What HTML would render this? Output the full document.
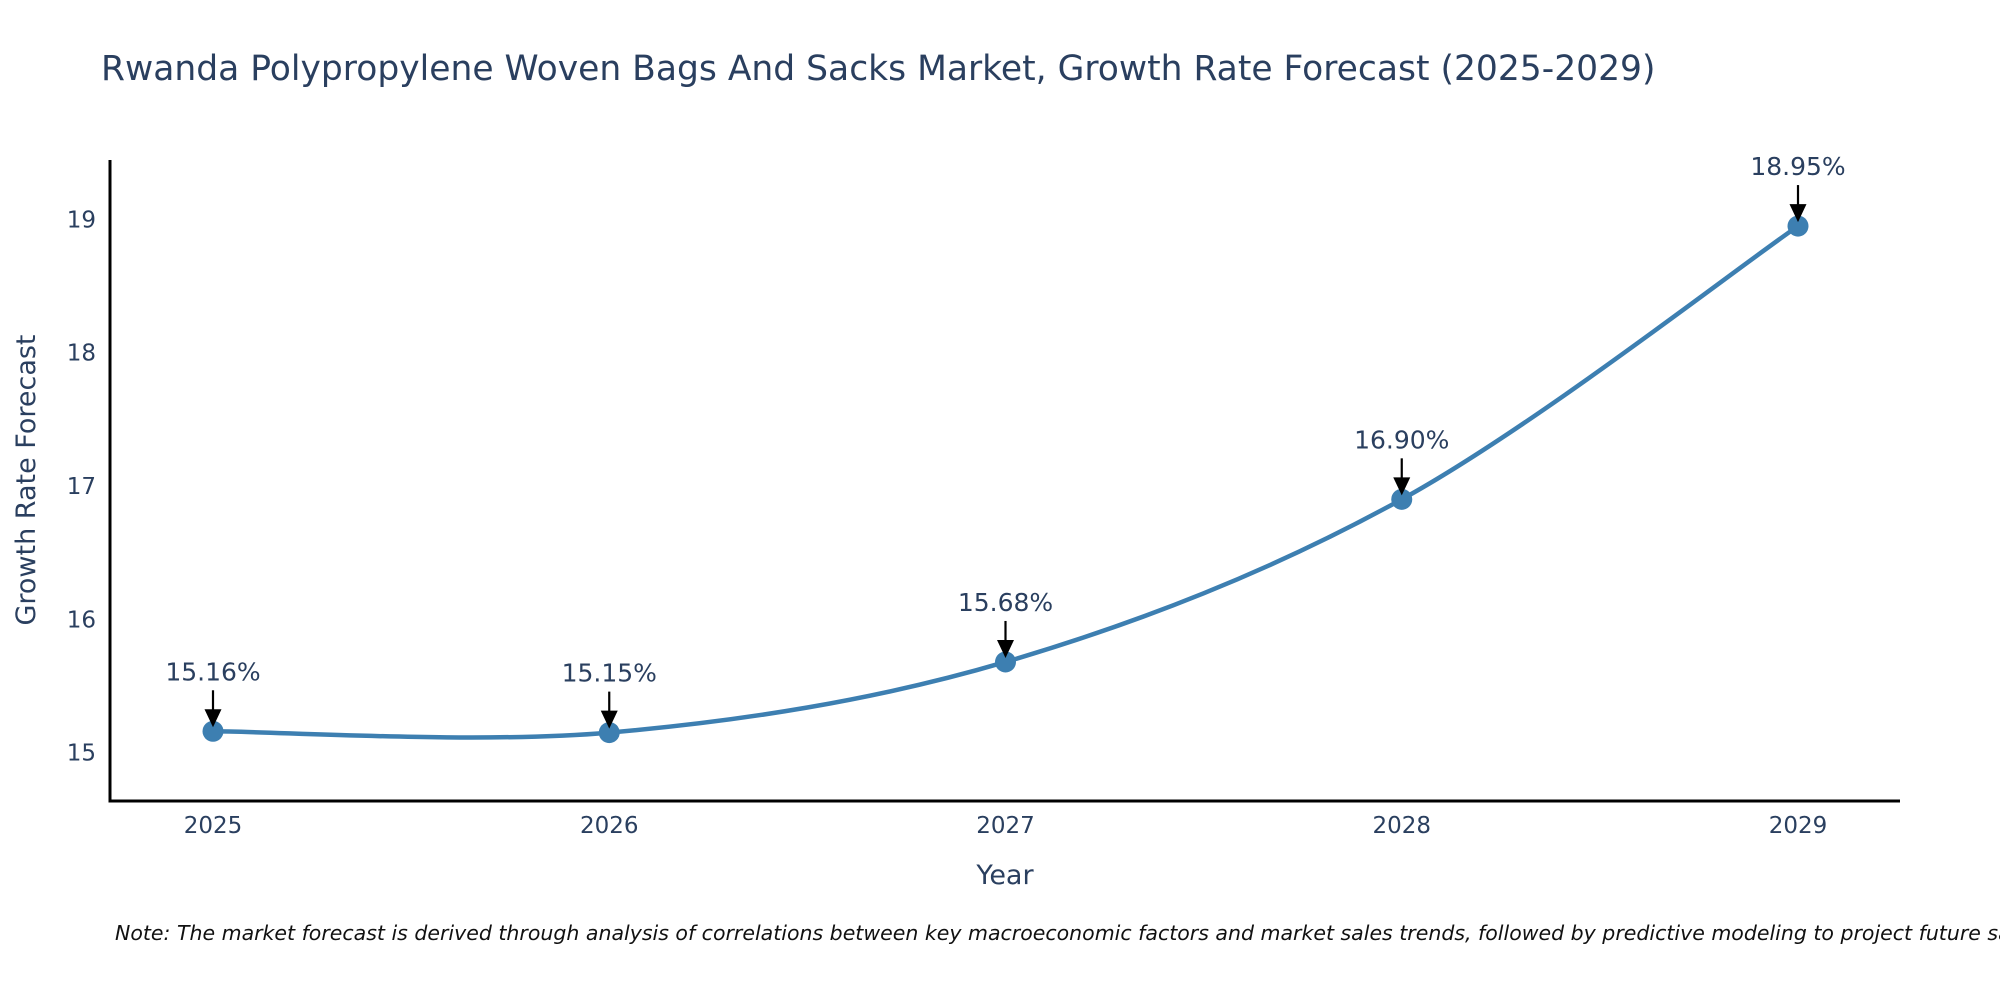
<!DOCTYPE html>
<html><head><meta charset="utf-8"><style>
html,body{margin:0;padding:0;background:#fff;overflow:hidden;}
svg text{font-family:"DejaVu Sans","Liberation Sans",sans-serif;fill:#2a3f5f;}
</style></head><body>
<svg id="chart" width="2000" height="1000" viewBox="0 0 2000 1000" xmlns="http://www.w3.org/2000/svg">
<text x="101" y="80" font-size="34.5">Rwanda Polypropylene Woven Bags And Sacks Market, Growth Rate Forecast (2025-2029)</text>
<g id="plot"></g>
<text x="1005" y="884" font-size="27" text-anchor="middle">Year</text>
<text transform="translate(35,480) rotate(-90)" font-size="27" text-anchor="middle">Growth Rate Forecast</text>
<text x="115" y="940" font-size="20.5" font-style="italic" style="fill:#111">Note: The market forecast is derived through analysis of correlations between key macroeconomic factors and market sales trends, followed by predictive modeling to project future sales.</text>
</svg>
<script>
const years = [2025, 2026, 2027, 2028, 2029];
const values = [15.16, 15.15, 15.68, 16.90, 18.95];
const labels = ["15.16%", "15.15%", "15.68%", "16.90%", "18.95%"];
const yTicks = [15, 16, 17, 18, 19];

const NS = "http://www.w3.org/2000/svg";
const g = document.getElementById('plot');
const X0 = 110, X1 = 1900, Y0 = 160, Y1 = 801;
function xs(yr){ return 213 + (yr - 2025) * 396.25; }
function ys(v){ return 752.6 - (v - 15) * 133.3; }
function mk(tag, attrs){ const e = document.createElementNS(NS, tag); for (const k in attrs) e.setAttribute(k, attrs[k]); g.appendChild(e); return e; }

let ax = mk('line', {x1:X0, y1:Y0, x2:X0, y2:Y1+1.5, stroke:'#000', 'stroke-width':3});


ax = mk('line', {x1:X0-1.5, y1:Y1, x2:X1, y2:Y1, stroke:'#000', 'stroke-width':3});



yTicks.forEach(t => {
  const e = mk('text', {x:96, y:ys(t)+8, 'font-size':23, 'text-anchor':'end'});
  e.textContent = t;
  
  
});
years.forEach(yr => {
  const e = mk('text', {x:xs(yr), y:833, 'font-size':23, 'text-anchor':'middle'});
  e.textContent = yr;
  
  
});

const pts = years.map((yr,i) => [xs(yr), ys(values[i])]);
let d = 'M' + pts[0][0] + ',' + pts[0][1];
for (let i = 0; i < pts.length - 1; i++) {
  const p0 = pts[Math.max(i-1,0)], p1 = pts[i], p2 = pts[i+1], p3 = pts[Math.min(i+2, pts.length-1)];
  const c1 = [p1[0] + (p2[0]-p0[0])/6, p1[1] + (p2[1]-p0[1])/6];
  const c2 = [p2[0] - (p3[0]-p1[0])/6, p2[1] - (p3[1]-p1[1])/6];
  d += ' C' + c1.join(',') + ' ' + c2.join(',') + ' ' + p2.join(',');
}
const line = mk('path', {d:d, fill:'none', stroke:'#3d7fb1', 'stroke-width':4.5});



pts.forEach((p, i) => {
  const c = mk('circle', {cx:p[0], cy:p[1], r:10.5, fill:'#3d7fb1'});
  
  
  const a = mk('line', {x1:p[0], y1:p[1]-41, x2:p[0], y2:p[1]-18, stroke:'#000', 'stroke-width':2.2});
  
  
  const h = mk('polygon', {points:(p[0]-8.5)+','+(p[1]-22)+' '+(p[0]+8.5)+','+(p[1]-22)+' '+p[0]+','+(p[1]-4), fill:'#000'});
  
  
  const t = mk('text', {x:p[0], y:p[1]-51, 'font-size':25, 'text-anchor':'middle'});
  t.textContent = labels[i];
  
  
});
</script>
</body></html>
